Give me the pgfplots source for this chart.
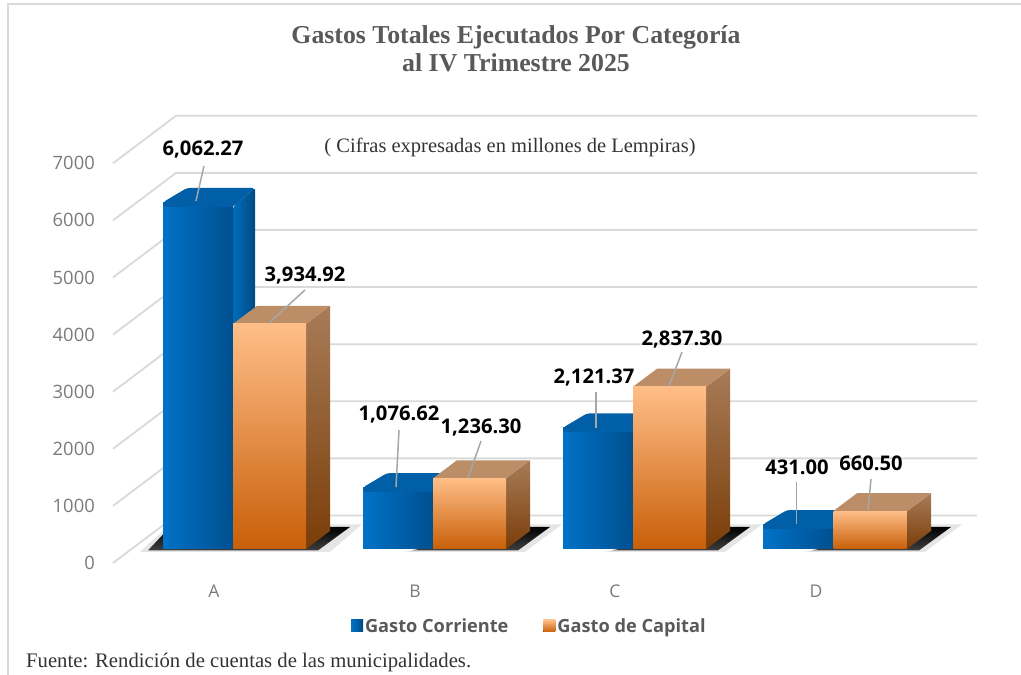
\documentclass[border=0pt]{standalone}
\usepackage{pgfplots}
\pgfplotsset{compat=1.18}
\usepackage{fontspec}
\setmainfont{Open Sans}
\newfontfamily\titlefont{Liberation Serif}
\definecolor{gridc}{HTML}{D9D9D9}
\definecolor{txtg}{HTML}{7A7A7A}
\definecolor{titleg}{HTML}{595959}
\definecolor{lead}{HTML}{A6A6A6}
\definecolor{bl}{HTML}{0072C8}
\definecolor{blm}{HTML}{006CBC}
\definecolor{bd}{HTML}{00508F}
\definecolor{bs}{HTML}{004B82}
\definecolor{bt}{HTML}{005FA6}
\definecolor{ot}{HTML}{FFBE88}
\definecolor{ob}{HTML}{C85F08}
\definecolor{st}{HTML}{A87C58}
\definecolor{sb}{HTML}{7A3D08}
\definecolor{tt}{HTML}{BC8E68}
\pgfplotsset{
  wall/.style={draw=gridc,line width=1.8pt,forget plot},
  leader/.style={draw=lead,line width=1.5pt,forget plot},
  btop/.style={draw=none,fill=bt,rounded corners=3pt,forget plot},
  bside/.style={draw=none,left color=blm,right color=bs,rounded corners=2pt,forget plot},
  otop/.style={draw=none,fill=tt,forget plot},
  oside/.style={draw=none,top color=st,bottom color=sb,forget plot},
  shout/.style={draw=none,fill=black,opacity=0.10,forget plot},
  shin/.style={draw=none,top color=black,bottom color=black!75,forget plot},
  bluebar/.style={ybar,bar width=70pt,bar shift=0pt,draw=none,left color=bl,middle color=blm,right color=bd},
  orangebar/.style={ybar,bar width=73pt,bar shift=0pt,draw=none,top color=ot,bottom color=ob},
}
\tikzset{
  dl/.style={font=\fontsize{20.2}{22}\selectfont\bfseries,text=black,inner sep=0pt,anchor=center},
}
\begin{document}
\begin{tikzpicture}[x=1pt,y=1pt]
\path[use as bounding box] (0,0) rectangle (1021pt,675pt);
% Axis with the value scale and the walls of the chart
\begin{axis}[
  at={(100pt,0pt)},anchor=south west,
  scale only axis,width=921pt,height=675pt,
  xmin=100,xmax=1021,ymin=-1987.7,ymax=9833.6,
  clip=false,
  axis line style={draw=none},
  major tick length=0pt,
  xtick=\empty,
  ytick={0,1000,2000,3000,4000,5000,6000,7000},
  /pgf/number format/assume math mode=true,
  /pgf/number format/1000 sep={},
  yticklabel style={font=\fontsize{18.4}{20}\selectfont,text=txtg,inner sep=0pt,xshift=-5pt,yshift=-1.5pt},
]
\addplot[wall] coordinates {(8,-1988)(8,9763)(1021,9763)};
\addplot[wall] coordinates {(113,-26)(176,806)(977,806)};
\addplot[wall] coordinates {(113,974)(176,1806)(977,1806)};
\addplot[wall] coordinates {(113,1974)(176,2806)(977,2806)};
\addplot[wall] coordinates {(113,2974)(176,3806)(977,3806)};
\addplot[wall] coordinates {(113,3974)(176,4806)(977,4806)};
\addplot[wall] coordinates {(113,4974)(176,5806)(977,5806)};
\addplot[wall] coordinates {(113,5974)(176,6806)(977,6806)};
\addplot[wall] coordinates {(113,6974)(176,7806)(977,7806)};
\end{axis}
% Axis with the bars
\begin{axis}[
  at={(0pt,97pt)},anchor=south west,
  scale only axis,width=1021pt,height=578pt,
  xmin=0,xmax=1021,ymin=-507,ymax=9597.9,
  clip=false,
  axis line style={draw=none},
  major tick length=0pt,
  ytick=\empty,
  xtick={214,415,615,816},
  xticklabels={A,B,C,D},
  xticklabel style={font=\fontsize{17.5}{20}\selectfont,text=txtg,inner sep=0pt,yshift=-7pt},
  title={Gastos Totales Ejecutados Por Categoría\\al IV Trimestre 2025},
  title style={at={(0.5054,0.9055)},anchor=center,align=center,inner sep=0pt,
    font=\titlefont\fontsize{25.8}{28}\selectfont\bfseries,text=titleg},
  legend columns=2,
  legend style={at={(0.5185,-0.083)},anchor=center,draw=none,fill=none,
    font=\fontsize{18.2}{20}\selectfont\bfseries,text=titleg,
    /tikz/every even column/.append style={column sep=33pt}},
]
% floor shadows
\addplot[shout] coordinates {(140,-50)(330,-50)(362,430)(170,430)} -- cycle;
\addplot[shin] coordinates {(148,-25)(318,-25)(350,385)(170,385)} -- cycle;
\addplot[shout] coordinates {(405,-50)(525,-50)(562,430)(520,430)} -- cycle;
\addplot[shin] coordinates {(412,-25)(518,-25)(550,385)(525,385)} -- cycle;
\addplot[shout] coordinates {(605,-50)(725,-50)(762,430)(720,430)} -- cycle;
\addplot[shin] coordinates {(612,-25)(718,-25)(750,385)(725,385)} -- cycle;
\addplot[shout] coordinates {(805,-50)(925,-50)(962,430)(920,430)} -- cycle;
\addplot[shin] coordinates {(812,-25)(919,-25)(951,385)(925,385)} -- cycle;
% Gasto Corriente
\addplot[bside] coordinates {(233,0)(255,250)(255,6312)(233,5983)} -- cycle;
\addplot[bside] coordinates {(433,0)(455,250)(455,1327)(433,998)} -- cycle;
\addplot[bside] coordinates {(633,0)(655,250)(655,2371)(633,2042)} -- cycle;
\addplot[bside] coordinates {(833,0)(855,250)(855,681)(833,352)} -- cycle;
\addplot[bluebar,
  legend image code/.code={\fill[left color=bl,right color=bs] (-4pt,-6pt) rectangle (8pt,6pt);}]
  coordinates {(198,6062.27)};
\addlegendentry{Gasto Corriente}
\addplot[bluebar,forget plot] coordinates {(398,1076.62)};
\addplot[bluebar,forget plot] coordinates {(598,2121.37)};
\addplot[bluebar,forget plot] coordinates {(798,431.00)};
\addplot[btop] coordinates {(163,5983)(163,6062.27)(187,6312)(255,6312)(233,5983)} -- cycle;
\addplot[btop] coordinates {(363,998)(363,1076.62)(387,1327)(455,1327)(433,998)} -- cycle;
\addplot[btop] coordinates {(563,2042)(563,2121.37)(587,2371)(655,2371)(633,2042)} -- cycle;
\addplot[btop] coordinates {(763,352)(763,431)(787,681)(855,681)(833,352)} -- cycle;
% Gasto de Capital
\addplot[oside] coordinates {(306,0)(330,315)(330,4250)(306,3934.92)} -- cycle;
\addplot[oside] coordinates {(506,0)(530,315)(530,1551)(506,1236.30)} -- cycle;
\addplot[oside] coordinates {(706,0)(730,315)(730,3152)(706,2837.30)} -- cycle;
\addplot[oside] coordinates {(907,0)(931,315)(931,975.5)(907,660.50)} -- cycle;
\addplot[otop] coordinates {(233,3934.92)(257,4250)(330,4250)(306,3934.92)} -- cycle;
\addplot[otop] coordinates {(433,1236.30)(457,1551)(530,1551)(506,1236.30)} -- cycle;
\addplot[otop] coordinates {(633,2837.30)(657,3152)(730,3152)(706,2837.30)} -- cycle;
\addplot[otop] coordinates {(833,660.50)(857,975.5)(931,975.5)(907,660.50)} -- cycle;
\addplot[orangebar,
  legend image code/.code={\fill[top color=ot,bottom color=ob] (-4pt,-6pt) rectangle (8pt,6pt);}]
  coordinates {(269.5,3934.92)};
\addlegendentry{Gasto de Capital}
\addplot[orangebar,forget plot] coordinates {(469.5,1236.30)};
\addplot[orangebar,forget plot] coordinates {(669.5,2837.30)};
\addplot[orangebar,forget plot] coordinates {(870,660.50)};
% leader lines
\addplot[leader] coordinates {(204,6696)(196,6084)};
\addplot[leader] coordinates {(305,4528)(269,3951)};
\addplot[leader] coordinates {(399,2080)(396,1084)};
\addplot[leader] coordinates {(481,1888)(468,1241)};
\addplot[leader] coordinates {(596,2745)(596,2115)};
\addplot[leader] coordinates {(682,3444)(669,2850)};
\addplot[leader] coordinates {(796.5,1171)(796.5,437)};
\addplot[leader] coordinates {(871,1224)(868,682)};
% data labels
\node[dl] at (axis cs:203,6976) {6,062.27};
\node[dl] at (axis cs:305,4790) {3,934.92};
\node[dl] at (axis cs:399,2343) {1,076.62};
\node[dl] at (axis cs:481,2133) {1,236.30};
\node[dl] at (axis cs:594,2990) {2,121.37};
\node[dl] at (axis cs:682,3671) {2,837.30};
\node[dl] at (axis cs:797,1434) {431.00};
\node[dl] at (axis cs:871,1503) {660.50};
% notes
\node[font=\titlefont\fontsize{20.5}{22}\selectfont,text=black!80,inner sep=0pt] at (axis cs:510,7028) {( Cifras expresadas en millones de Lempiras)};
\node[font=\titlefont\fontsize{20.7}{22}\selectfont,text=black!80,inner sep=0pt,anchor=west] at (axis cs:26,-1993) {Fuente: Rendición de cuentas de las municipalidades.};
\end{axis}
\end{tikzpicture}
\end{document}
